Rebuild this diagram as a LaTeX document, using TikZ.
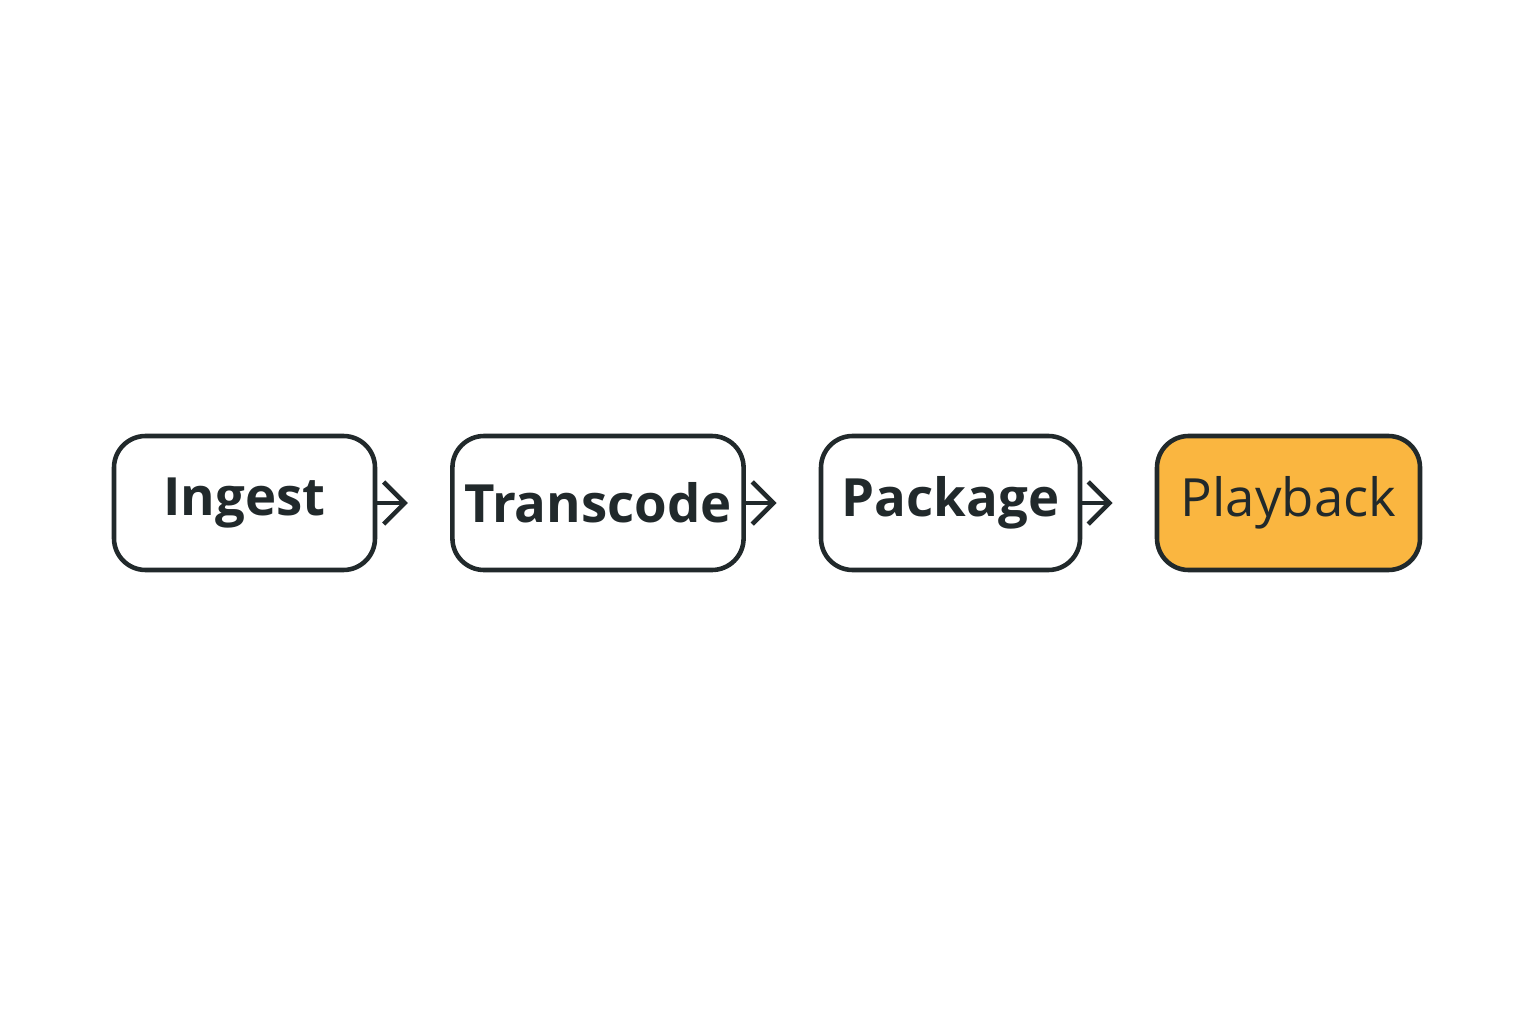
\documentclass[tikz,border=0pt]{standalone}
\usepackage{fontspec}
\setmainfont{Open Sans}
\usetikzlibrary{arrows.meta}
\definecolor{inkColor}{RGB}{33,41,43}
\definecolor{playColor}{RGB}{250,182,64}
\tikzset{
  stagebox/.style={draw=inkColor, line width=1.3pt, rounded corners=9pt,
    minimum height=1.34cm, text=inkColor,
    font=\fontsize{15}{18}\selectfont\bfseries},
  flowarrow/.style={draw=inkColor, line width=1.3pt,
    -{Straight Barb[length=6pt,width=12pt,line width=1.3pt]}, shorten >=12pt}
}
\begin{document}
\begin{tikzpicture}

  \useasboundingbox (0,0) rectangle (15.36,10.24);

  % stages of the pipeline
  \node[stagebox, minimum width=2.61cm] (ingest) at (2.445,5.21) {Ingest};
  \node[stagebox, minimum width=2.78cm] (transcode) at (5.98,5.21) {Transcode};
  \node[stagebox, minimum width=2.59cm] (package) at (9.505,5.21) {Package};
  \node[stagebox, minimum width=2.63cm, fill=playColor, font=\fontsize{15}{18}\selectfont] (playback) at (12.885,5.21) {Playback};

  \foreach \a/\b in {ingest/transcode,transcode/package,package/playback}
    \draw[flowarrow] (\a.east) -- (\b.west);

\end{tikzpicture}
\end{document}
